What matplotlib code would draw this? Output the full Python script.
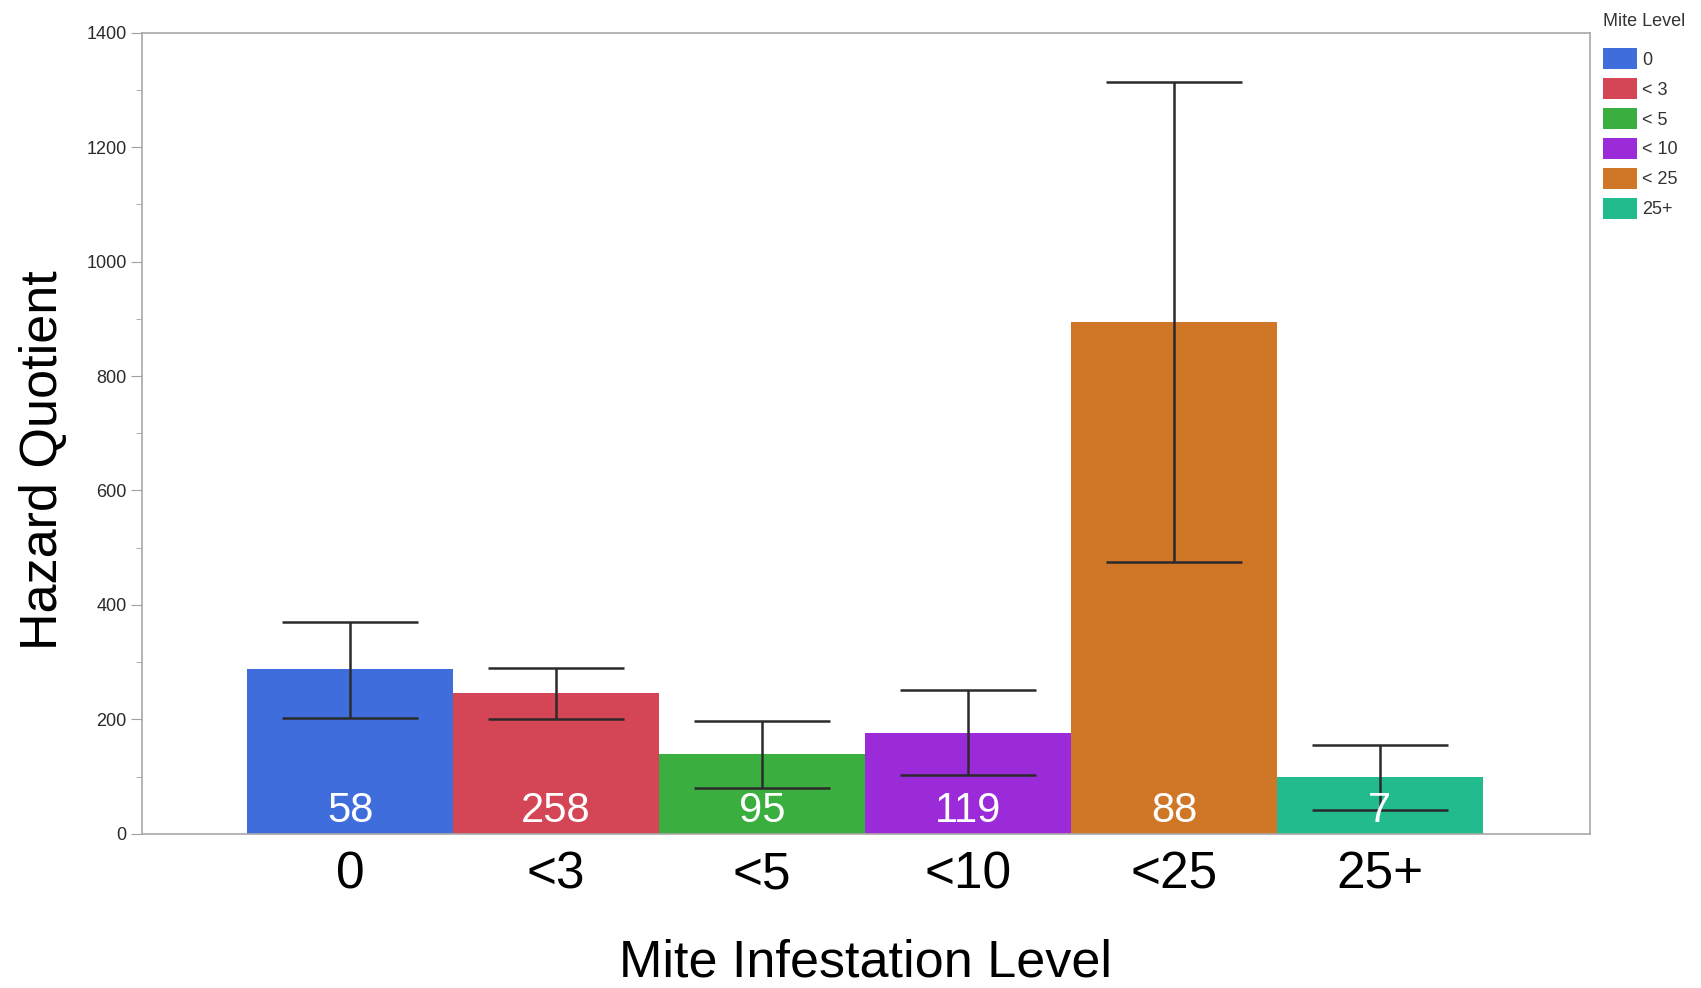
import matplotlib
matplotlib.use("Agg")
import matplotlib.pyplot as plt
from matplotlib.patches import Patch
from matplotlib.ticker import MultipleLocator

# data
levels = ["0", "<3", "<5", "<10", "<25", "25+"]
legend_labels = ["0", "< 3", "< 5", "< 10", "< 25", "25+"]
means = [288, 246, 140, 176, 894, 100]
err_low = [203, 201, 81, 102, 475, 42]
err_high = [371, 290, 197, 252, 1314, 155]
counts = [58, 258, 95, 119, 88, 7]
colors = ["#3f6ddc", "#d44555", "#3aae3e", "#9b2bd9", "#cf7627", "#21bb8e"]

plt.rcParams['font.family'] = ['Liberation Sans', 'DejaVu Sans']

fig = plt.figure(figsize=(17.01, 9.88), dpi=100)
ax = fig.add_axes([0.0835, 0.156, 0.8512, 0.811])

x = list(range(len(levels)))
ax.bar(x, means, width=1.0, color=colors, zorder=2)

lo = [m - l for m, l in zip(means, err_low)]
hi = [h - m for m, h in zip(means, err_high)]
ax.errorbar(x, means, yerr=[lo, hi], fmt='none', ecolor='#2b2b2b',
            elinewidth=1.8, capsize=49, capthick=1.8, zorder=3)

for xi, c in zip(x, counts):
    ax.text(xi, 40, str(c), ha='center', va='center', color='white',
            fontsize=30, zorder=4)

ax.set_xlim(-1.01, 6.02)
ax.set_ylim(0, 1400)
ax.yaxis.set_major_locator(MultipleLocator(200))
ax.yaxis.set_minor_locator(MultipleLocator(100))
ax.tick_params(axis='y', which='major', length=8, color='#a0a0a0',
               labelsize=13, labelcolor='#2a2a2a', pad=3)
ax.tick_params(axis='y', which='minor', length=4, color='#a0a0a0')
ax.set_xticks(x)
ax.set_xticklabels(levels)
ax.tick_params(axis='x', length=0, labelsize=37, pad=12)

for s in ax.spines.values():
    s.set_color('#a8a8a8')
    s.set_linewidth(1.2)

ax.set_ylabel("Hazard Quotient", fontsize=37.5, va='center')
ax.yaxis.set_label_coords(-0.068, 0.466)
ax.set_xlabel("Mite Infestation Level", fontsize=37.5, labelpad=28)

handles = [Patch(facecolor=c, edgecolor='none') for c in colors]
leg = fig.legend(handles, legend_labels, loc='upper left',
                 bbox_to_anchor=(0.9425, 0.951), frameon=False, fontsize=13,
                 handlelength=1.9, handleheight=1.4,
                 labelspacing=0.5, handletextpad=0.25, borderaxespad=0,
                 borderpad=0)
for t in leg.get_texts():
    t.set_color('#333333')
fig.text(0.9424, 0.978, "Mite Level", fontsize=13, color='#333333',
         ha='left', va='center')

fig.savefig("out.png", dpi=100)
